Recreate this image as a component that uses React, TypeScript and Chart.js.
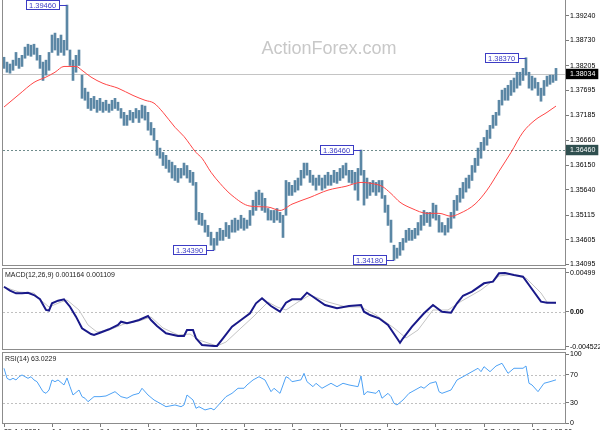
import React, { useEffect, useRef } from 'react';
import { Chart, registerables } from 'chart.js';

Chart.register(...registerables);

const FONT = '"Liberation Sans", Arial, sans-serif';

// ---------------- price bars (high / low per bar) ----------------
const barHigh = [
  1.3838, 1.3828, 1.3824, 1.3832, 1.3848, 1.3836, 1.3842, 1.3859, 1.3865, 1.3863,
  1.3865, 1.3857, 1.3842, 1.3828, 1.3832, 1.3848, 1.3884, 1.3888, 1.3877, 1.3884,
  1.3873, 1.3946, 1.3853, 1.3832, 1.3842, 1.3853, 1.3801, 1.3774, 1.3766, 1.3753,
  1.3757, 1.3749, 1.3753, 1.3745, 1.3749, 1.3741, 1.3749, 1.3753, 1.3745, 1.3732,
  1.3724, 1.3718, 1.3728, 1.3724, 1.3732, 1.3728, 1.3739, 1.3737, 1.3724, 1.3703,
  1.3691, 1.3666, 1.3650, 1.3641, 1.3635, 1.3625, 1.3621, 1.3614, 1.3608, 1.3608,
  1.3619, 1.3614, 1.3604, 1.3600, 1.3579, 1.3517, 1.3515, 1.3501, 1.3490, 1.3476,
  1.3463, 1.3476, 1.3484, 1.3480, 1.3496, 1.3490, 1.3501, 1.3505, 1.3501, 1.3511,
  1.3505, 1.3501, 1.3521, 1.3542, 1.3559, 1.3563, 1.3557, 1.3546, 1.3525, 1.3521,
  1.3521, 1.3525, 1.3517, 1.3511, 1.3583, 1.3579, 1.3573, 1.3583, 1.3588, 1.3604,
  1.3619, 1.3619, 1.3604, 1.3594, 1.3588, 1.3594, 1.3588, 1.3594, 1.3600, 1.3594,
  1.3604, 1.3600, 1.3608, 1.3614, 1.3619, 1.3604, 1.3604, 1.3600, 1.3608, 1.3646,
  1.3604, 1.3588, 1.3579, 1.3583, 1.3579, 1.3583, 1.3583, 1.3552, 1.3532, 1.3501,
  1.3449, 1.3443, 1.3455, 1.3463, 1.3480, 1.3484, 1.3480, 1.3484, 1.3496, 1.3511,
  1.3521, 1.3517, 1.3517, 1.3536, 1.3532, 1.3511, 1.3496, 1.3490, 1.3505, 1.3517,
  1.3542, 1.3552, 1.3567, 1.3579, 1.3588, 1.3594, 1.3614, 1.3629, 1.3650, 1.3662,
  1.3672, 1.3687, 1.3697, 1.3718, 1.3724, 1.3749, 1.3770, 1.3774, 1.3780, 1.3790,
  1.3795, 1.3807, 1.3807, 1.3815, 1.3837, 1.3807, 1.3799, 1.3795, 1.3786, 1.3774,
  1.3790, 1.3799, 1.3801, 1.3801, 1.3815,
];
const barLow = [
  1.3815, 1.3807, 1.3805, 1.3811, 1.3821, 1.3815, 1.3819, 1.3836, 1.3842, 1.3840,
  1.3844, 1.3832, 1.3815, 1.3790, 1.3801, 1.3811, 1.3848, 1.3853, 1.3842, 1.3848,
  1.3842, 1.3853, 1.3821, 1.3790, 1.3807, 1.3821, 1.3753, 1.3749, 1.3732, 1.3728,
  1.3732, 1.3724, 1.3728, 1.3724, 1.3728, 1.3724, 1.3728, 1.3732, 1.3728, 1.3712,
  1.3697, 1.3697, 1.3708, 1.3703, 1.3712, 1.3703, 1.3712, 1.3708, 1.3687, 1.3677,
  1.3666, 1.3635, 1.3629, 1.3614, 1.3608, 1.3600, 1.3588, 1.3583, 1.3579, 1.3588,
  1.3594, 1.3588, 1.3579, 1.3573, 1.3501, 1.3492, 1.3490, 1.3476, 1.3467, 1.3449,
  1.3439, 1.3449, 1.3459, 1.3459, 1.3467, 1.3463, 1.3476, 1.3476, 1.3480, 1.3484,
  1.3480, 1.3484, 1.3490, 1.3511, 1.3521, 1.3532, 1.3521, 1.3517, 1.3501, 1.3501,
  1.3496, 1.3501, 1.3496, 1.3465, 1.3511, 1.3552, 1.3552, 1.3559, 1.3563, 1.3573,
  1.3588, 1.3594, 1.3579, 1.3573, 1.3563, 1.3573, 1.3563, 1.3567, 1.3573, 1.3573,
  1.3579, 1.3577, 1.3583, 1.3588, 1.3594, 1.3579, 1.3577, 1.3563, 1.3542, 1.3594,
  1.3532, 1.3546, 1.3552, 1.3559, 1.3552, 1.3559, 1.3546, 1.3517, 1.3490, 1.3455,
  1.3418, 1.3422, 1.3428, 1.3439, 1.3455, 1.3459, 1.3459, 1.3463, 1.3470, 1.3480,
  1.3490, 1.3496, 1.3488, 1.3505, 1.3501, 1.3476, 1.3476, 1.3470, 1.3476, 1.3484,
  1.3505, 1.3521, 1.3538, 1.3546, 1.3559, 1.3567, 1.3583, 1.3600, 1.3614, 1.3629,
  1.3646, 1.3656, 1.3670, 1.3691, 1.3697, 1.3718, 1.3739, 1.3749, 1.3749, 1.3759,
  1.3766, 1.3774, 1.3780, 1.3790, 1.3801, 1.3774, 1.3770, 1.3774, 1.3759, 1.3747,
  1.3759, 1.3778, 1.3782, 1.3786, 1.3790,
];

// ---------------- moving average (red) ----------------
const maIdx = [0, 5, 10, 14, 17, 20, 24, 26, 29, 33, 38, 43, 47, 50, 53, 57, 60, 64, 66, 69, 72, 76, 82, 88, 92, 96, 102, 108, 114, 119, 124, 126, 129, 132, 136, 141, 145, 149, 152, 157, 161, 165, 169, 173, 177, 181, 184];
const maVal = [1.3735, 1.3761, 1.3786, 1.3797, 1.3807, 1.3819, 1.3819, 1.3811, 1.3797, 1.3784, 1.3774, 1.3759, 1.3749, 1.3743, 1.3724, 1.3693, 1.3674, 1.3641, 1.3629, 1.3600, 1.3577, 1.3552, 1.3530, 1.3528, 1.3521, 1.3534, 1.3548, 1.3563, 1.3571, 1.3579, 1.3575, 1.3571, 1.3556, 1.3538, 1.3525, 1.3515, 1.3515, 1.3509, 1.3515, 1.3534, 1.3563, 1.3602, 1.3641, 1.3683, 1.3708, 1.3724, 1.3737];

// ---------------- swing labels & levels ----------------
const annIdx = [21, 70, 119, 130, 174];
const annPrice = [1.3946, 1.3439, 1.3646, 1.3418, 1.3837];
const lastPrice = 1.38034;
const levelPrice = 1.3646;
const priceTicks = [1.3924, 1.3873, 1.38205, 1.38034, 1.37695, 1.37185, 1.3666, 1.3646, 1.3615, 1.3564, 1.35115, 1.34605, 1.34095];

// ---------------- MACD ----------------
const macdIdx = [0, 2, 4, 6, 8, 10, 12, 14, 15, 16, 18, 20, 22, 24, 26, 29, 30, 32, 35, 38, 39, 41, 43, 45, 48, 49, 51, 54, 58, 60, 61, 63, 64, 66, 70, 71, 73, 76, 79, 82, 84, 86, 89, 92, 94, 96, 99, 101, 103, 107, 111, 115, 119, 120, 122, 125, 128, 131, 132, 133, 136, 140, 143, 146, 149, 151, 153, 156, 160, 163, 165, 167, 170, 173, 175, 179, 181, 184];
const macdVal = [0.00322, 0.00271, 0.00237, 0.00237, 0.00245, 0.00215, 0.00160, 0.00022, 0.00013, 0.00108, 0.00142, 0.00160, 0.00064, -0.00064, -0.00214, -0.00288, -0.00300, -0.00271, -0.00227, -0.00171, -0.00129, -0.00150, -0.00129, -0.00107, -0.00055, -0.00107, -0.00184, -0.00278, -0.00313, -0.00313, -0.00236, -0.00236, -0.00343, -0.00429, -0.00442, -0.00442, -0.00343, -0.00193, -0.00107, -0.00021, 0.00108, 0.00173, 0.00073, 0.0, 0.00116, 0.00160, 0.00160, 0.00245, 0.00193, 0.00086, 0.00044, 0.00073, 0.00086, 0.0, -0.00043, -0.00085, -0.00171, -0.00343, -0.00400, -0.00343, -0.00193, -0.00021, 0.00086, 0.0, -0.00013, 0.00108, 0.00206, 0.00258, 0.00366, 0.00387, 0.00495, 0.00499, 0.00473, 0.00451, 0.00344, 0.00129, 0.00116, 0.001164];
const sigIdx = [0, 5, 10, 13, 15, 19, 21, 25, 28, 31, 35, 40, 45, 49, 53, 58, 62, 65, 71, 74, 79, 83, 88, 91, 94, 98, 102, 108, 114, 119, 124, 130, 134, 138, 143, 148, 152, 159, 165, 169, 174, 179, 181, 184];
const sigVal = [0.00318, 0.00254, 0.00241, 0.00125, 0.00061, 0.00125, 0.00151, 0.00022, -0.00171, -0.00262, -0.00236, -0.00159, -0.00120, -0.00068, -0.00210, -0.00300, -0.00288, -0.00365, -0.00442, -0.00391, -0.00210, -0.00068, 0.00125, 0.00061, 0.00022, 0.00125, 0.00215, 0.00125, 0.00061, 0.00061, -0.00043, -0.00210, -0.00339, -0.00236, 0.00022, 0.00022, 0.00125, 0.00280, 0.00460, 0.00480, 0.00434, 0.00241, 0.00125, 0.001109];
const macdTicks = [0.00499, 0, -0.004522];

// ---------------- RSI ----------------
const rsiIdx = [0, 1, 2, 3, 4, 5, 6, 8, 9, 10, 11, 13, 14, 15, 16, 17, 18, 20, 21, 22, 23, 25, 26, 27, 28, 30, 32, 34, 37, 39, 41, 43, 45, 46, 48, 50, 52, 54, 57, 59, 60, 61, 63, 64, 65, 67, 69, 70, 72, 74, 76, 78, 80, 81, 83, 85, 87, 89, 90, 92, 94, 95, 96, 99, 100, 101, 103, 104, 106, 109, 111, 113, 115, 118, 119, 120, 121, 124, 125, 126, 128, 129, 130, 131, 133, 135, 137, 139, 140, 142, 144, 145, 146, 149, 151, 153, 155, 158, 159, 160, 162, 164, 166, 168, 170, 173, 174, 175, 176, 178, 180, 182, 184];
const rsiVal = [79.7, 65.2, 62.8, 65.2, 62.8, 67.5, 70.0, 65.2, 67.5, 62.8, 60.3, 45.9, 43.5, 48.3, 62.8, 60.3, 62.8, 55.6, 65.7, 53.1, 41.1, 48.3, 38.7, 36.4, 31.4, 38.7, 38.7, 39.7, 45.9, 38.7, 36.4, 41.1, 43.5, 50.8, 41.1, 33.9, 29.1, 24.2, 26.7, 24.2, 26.7, 41.1, 33.9, 21.9, 24.2, 19.5, 21.9, 19.5, 29.1, 38.7, 43.5, 50.8, 50.8, 55.6, 62.8, 67.5, 62.8, 45.9, 50.8, 43.5, 67.5, 65.2, 60.3, 63.0, 72.4, 60.3, 53.1, 58.0, 50.8, 58.0, 53.1, 58.0, 55.6, 53.1, 68.6, 41.1, 45.9, 43.5, 48.3, 36.4, 43.5, 38.7, 29.1, 26.7, 33.9, 43.5, 48.3, 53.1, 50.8, 58.0, 60.3, 45.9, 43.5, 48.3, 62.8, 67.5, 72.4, 79.7, 74.8, 82.0, 74.8, 83.0, 86.9, 72.4, 79.7, 79.7, 83.0, 58.0, 55.6, 45.9, 58.0, 60.3, 63.0229];
const rsiTicks = [100, 70, 30, 0];
const rsiLevels = [70, 30];

// ---------------- time axis ----------------
const timeLabels = ['25 Jul 2024', '1 Aug 16:00', '9 Aug 08:00', '16 Aug 00:00', '23 Aug 16:00', '2 Sep 08:00', '9 Sep 00:00', '16 Sep 16:00', '24 Sep 08:00', '1 Oct 00:00', '8 Oct 16:00', '16 Oct 08:00'];
const barsPerLabel = 16;

const X_MIN = -2 / 3;
const X_MAX = 187 + 1 / 3;

function makeX(show: boolean): any {
  if (!show) return { type: 'linear', min: X_MIN, max: X_MAX, offset: false, display: false };
  return {
    type: 'linear',
    min: X_MIN,
    max: X_MAX,
    offset: false,
    grid: { drawOnChartArea: false, drawTicks: true, tickLength: 3, color: '#7a7a7a', offset: false },
    border: { display: false },
    afterBuildTicks: (s: any) => {
      s.ticks = timeLabels.map((_, k) => ({ value: k * barsPerLabel }));
    },
    afterFit: (s: any) => {
      s.height = 25;
      s.paddingLeft = 0;
      s.paddingRight = 0;
    },
    ticks: {
      autoSkip: false,
      maxRotation: 0,
      minRotation: 0,
      align: 'start',
      padding: 1,
      color: '#000',
      font: { family: FONT, size: 7 },
      callback: (_v: any, k: number) => timeLabels[k],
    },
  };
}

function makeY(min: number, max: number, vals: number[], fmt: (v: number) => string, extra: any = {}): any {
  return {
    type: 'linear',
    position: 'right',
    min,
    max,
    grid: { drawOnChartArea: false, drawTicks: true, tickLength: 3, color: '#7a7a7a' },
    border: { display: false },
    afterBuildTicks: (s: any) => {
      s.ticks = vals.map((v) => ({ value: v }));
    },
    afterFit: (s: any) => {
      s.width = 34;
      s.paddingTop = 0;
      s.paddingBottom = 0;
    },
    ticks: {
      autoSkip: false,
      padding: 1,
      color: '#000',
      font: { family: FONT, size: 7 },
      callback: (v: any) => fmt(Number(v)),
      ...extra,
    },
  };
}

const framePlugin = {
  id: 'frame',
  afterDraw(chart: any) {
    const { ctx, chartArea: a } = chart;
    ctx.save();
    ctx.strokeStyle = '#8c8c8c';
    ctx.lineWidth = 1;
    ctx.strokeRect(a.left + 0.5, a.top + 0.5, a.right - a.left - 1, a.bottom - a.top - 1);
    ctx.restore();
  },
};

function levelsPlugin(id: string, levels: { v: number; color: string; dash: number[] }[]) {
  return {
    id,
    beforeDatasetsDraw(chart: any) {
      const { ctx, chartArea: a, scales } = chart;
      ctx.save();
      ctx.lineWidth = 1;
      levels.forEach((l) => {
        const y = Math.round(scales.y.getPixelForValue(l.v)) + 0.5;
        ctx.strokeStyle = l.color;
        ctx.setLineDash(l.dash);
        ctx.beginPath();
        ctx.moveTo(a.left + 1, y);
        ctx.lineTo(a.right - 1, y);
        ctx.stroke();
      });
      ctx.restore();
    },
  };
}

function titlePlugin(id: string, text: string) {
  return {
    id,
    afterDraw(chart: any) {
      const { ctx, chartArea: a } = chart;
      ctx.save();
      ctx.font = `7px ${FONT}`;
      ctx.fillStyle = '#222';
      ctx.textBaseline = 'middle';
      ctx.textAlign = 'left';
      ctx.fillText(text, a.left + 3, a.top + 7);
      ctx.restore();
    },
  };
}

const watermarkPlugin = {
  id: 'watermark',
  beforeDatasetsDraw(chart: any) {
    const { ctx, chartArea: a } = chart;
    ctx.save();
    ctx.font = `18px ${FONT}`;
    ctx.fillStyle = '#c8c8c8';
    ctx.textAlign = 'center';
    ctx.textBaseline = 'alphabetic';
    ctx.fillText('ActionForex.com', a.left + 327, a.top + 74);
    ctx.restore();
  },
};

const swingPlugin = {
  id: 'swings',
  afterDatasetsDraw(chart: any) {
    const { ctx, scales } = chart;
    ctx.save();
    ctx.font = `7.5px ${FONT}`;
    ctx.textBaseline = 'middle';
    ctx.textAlign = 'left';
    annIdx.forEach((idx, k) => {
      const px = Math.round(scales.x.getPixelForValue(idx));
      const py = Math.round(scales.y.getPixelForValue(annPrice[k]));
      const txt = annPrice[k].toFixed(5);
      const w = Math.ceil(ctx.measureText(txt).width) + 6;
      const right = px - 7;
      const left = right - w;
      const top = py - 5;
      ctx.fillStyle = '#ffffff';
      ctx.fillRect(left, top, w, 10);
      ctx.strokeStyle = '#3c3cc4';
      ctx.lineWidth = 1;
      ctx.strokeRect(left + 0.5, top + 0.5, w - 1, 9);
      ctx.beginPath();
      ctx.moveTo(right, py + 0.5);
      ctx.lineTo(px, py + 0.5);
      ctx.stroke();
      ctx.fillStyle = '#3c3cc4';
      ctx.fillText(txt, left + 3, top + 5.5);
    });
    ctx.restore();
  },
};

const baseOpts = (padding: any) => ({
  responsive: false,
  animation: false as const,
  events: [] as any[],
  layout: { padding },
  plugins: { legend: { display: false }, tooltip: { enabled: false } },
});

export default function App() {
  const mainRef = useRef<HTMLCanvasElement>(null);
  const macdRef = useRef<HTMLCanvasElement>(null);
  const rsiRef = useRef<HTMLCanvasElement>(null);

  useEffect(() => {
    const charts: Chart[] = [];
    const isLast = (v: number) => Math.abs(v - lastPrice) < 1e-9;
    const isLevel = (v: number) => Math.abs(v - levelPrice) < 1e-9;

    charts.push(
      new Chart(mainRef.current as HTMLCanvasElement, {
        type: 'bar',
        data: {
          datasets: [
            {
              type: 'line',
              data: maIdx.map((x, k) => ({ x, y: maVal[k] })),
              borderColor: '#ff4646',
              borderWidth: 1,
              pointRadius: 0,
              cubicInterpolationMode: 'monotone',
              order: 0,
            } as any,
            {
              type: 'bar',
              data: barHigh.map((h, i) => ({ x: i, y: [barLow[i], h] })),
              backgroundColor: '#5b87a5',
              borderWidth: 0,
              barThickness: 2,
              order: 1,
            } as any,
          ],
        },
        options: {
          ...baseOpts({ left: 2, right: 0, top: 0, bottom: 4 }),
          scales: {
            x: makeX(false),
            y: makeY(1.3406, 1.39979, priceTicks, (v) => v.toFixed(5), {
              color: (c: any) => (c.tick && (isLast(c.tick.value) || isLevel(c.tick.value)) ? '#ffffff' : '#000000'),
              showLabelBackdrop: (c: any) => !!(c.tick && (isLast(c.tick.value) || isLevel(c.tick.value))),
              backdropColor: (c: any) => (c.tick && isLast(c.tick.value) ? '#000000' : '#2f4f4f'),
              backdropPadding: { left: 4, right: 3, top: 1, bottom: 1 },
            }),
          },
        } as any,
        plugins: [
          watermarkPlugin,
          levelsPlugin('mainLevels', [
            { v: lastPrice, color: '#c4c4c4', dash: [] },
            { v: levelPrice, color: '#6f8c8c', dash: [2, 2] },
          ]),
          swingPlugin,
          framePlugin,
        ],
      })
    );

    const macdLast = macdVal[macdVal.length - 1];
    const sigLast = sigVal[sigVal.length - 1];
    charts.push(
      new Chart(macdRef.current as HTMLCanvasElement, {
        type: 'line',
        data: {
          datasets: [
            {
              data: macdIdx.map((x, k) => ({ x, y: macdVal[k] })),
              borderColor: '#191989',
              borderWidth: 2,
              pointRadius: 0,
              order: 0,
            },
            {
              data: sigIdx.map((x, k) => ({ x, y: sigVal[k] })),
              borderColor: '#c4c4c4',
              borderWidth: 1,
              pointRadius: 0,
              order: 1,
            },
          ],
        },
        options: {
          ...baseOpts({ left: 2, right: 0, top: 6, bottom: 4 }),
          scales: {
            x: makeX(false),
            y: makeY(-0.004938, 0.005634, macdTicks, (v) => (v === 0 ? '0.00' : String(v)), {
              font: (c: any) => ({ family: FONT, size: 7, weight: c.tick && c.tick.value === 0 ? 'bold' : 'normal' }),
            }),
          },
        } as any,
        plugins: [
          levelsPlugin('macdLevels', [{ v: 0, color: '#c0c0c0', dash: [2, 2] }]),
          titlePlugin('macdTitle', `MACD(12,26,9) ${macdLast.toFixed(6)} ${sigLast.toFixed(6)}`),
          framePlugin,
        ],
      })
    );

    const rsiLast = rsiVal[rsiVal.length - 1];
    charts.push(
      new Chart(rsiRef.current as HTMLCanvasElement, {
        type: 'line',
        data: {
          datasets: [
            {
              data: rsiIdx.map((x, k) => ({ x, y: rsiVal[k] })),
              borderColor: '#4ea2f5',
              borderWidth: 1,
              pointRadius: 0,
            },
          ],
        },
        options: {
          ...baseOpts({ left: 2, right: 0, top: 3, bottom: 0 }),
          scales: {
            x: makeX(true),
            y: makeY(-0.8, 103.2, rsiTicks, (v) => String(v)),
          },
        } as any,
        plugins: [
          levelsPlugin('rsiLevels', rsiLevels.map((v) => ({ v, color: '#c0c0c0', dash: [2, 2] }))),
          titlePlugin('rsiTitle', `RSI(14) ${rsiLast.toFixed(4)}`),
          framePlugin,
        ],
      })
    );

    return () => charts.forEach((c) => c.destroy());
  }, []);

  return (
    <div style={{ position: 'absolute', left: 0, top: 0, width: 600, height: 430, overflow: 'hidden', background: '#ffffff' }}>
      <canvas ref={mainRef} width={600} height={290} style={{ position: 'absolute', left: 0, top: -20, display: 'block' }} />
      <canvas ref={macdRef} width={600} height={92} style={{ position: 'absolute', left: 0, top: 262, display: 'block' }} />
      <canvas ref={rsiRef} width={600} height={100} style={{ position: 'absolute', left: 0, top: 349, display: 'block' }} />
    </div>
  );
}
